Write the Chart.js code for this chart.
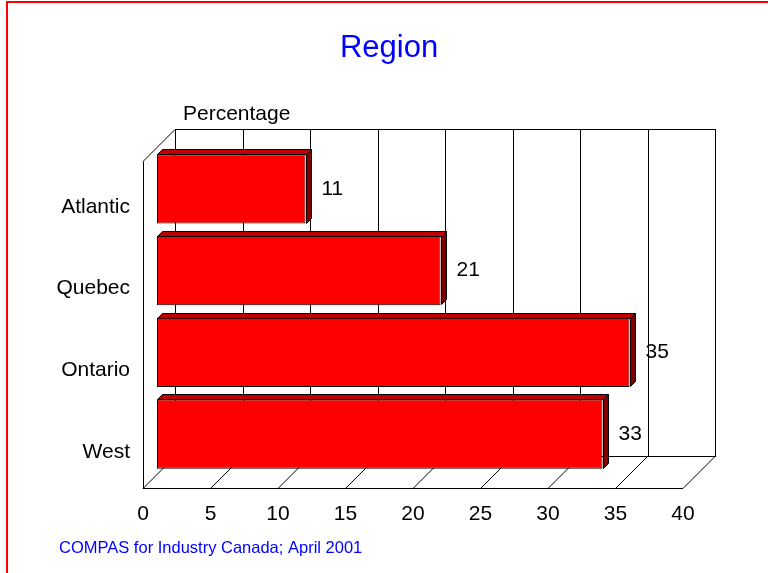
<!DOCTYPE html>
<html>
<head>
<meta charset="utf-8">
<title>Region</title>
<script src="https://cdn.jsdelivr.net/npm/chart.js@4/dist/chart.umd.min.js"></script>
<style>
  html, body { margin: 0; padding: 0; background: #fff; overflow: hidden; }
  .frame {
    position: absolute; left: 6px; top: 1px;
    width: 900px; height: 700px;
    border-top: 2px solid #ff0000; border-left: 2px solid #ff0000;
  }
  #region-chart { position: absolute; left: 0; top: 0; }
</style>
</head>
<body>
<div class="frame"></div>
<canvas id="region-chart" width="768" height="573"></canvas>
<script>
const regions = ['Atlantic', 'Quebec', 'Ontario', 'West'];
const percentages = [11, 21, 35, 33];
const axisMax = 40;
const axisStep = 5;

const chartTitle = 'Region';
const axisCaption = 'Percentage';
const sourceNote = 'COMPAS for Industry Canada; April 2001';

const fontFamily = '"Liberation Sans", Arial, Helvetica, sans-serif';

// depth of the box, where the bars sit inside it, and how thick the bars are
const boxDepth = 32;
const barShiftX = 14;
const barShiftY = 13;
const barDepth = 5;

const crisp = (v) => Math.round(v) + 0.5;

const line = (ctx, x1, y1, x2, y2) => {
    ctx.beginPath();
    ctx.moveTo(x1, y1);
    ctx.lineTo(x2, y2);
    ctx.stroke();
};

const poly = (ctx, pts, fill) => {
    ctx.beginPath();
    ctx.moveTo(pts[0][0], pts[0][1]);
    for (let i = 1; i < pts.length; i++) ctx.lineTo(pts[i][0], pts[i][1]);
    ctx.closePath();
    ctx.fillStyle = fill;
    ctx.fill();
    ctx.stroke();
};

// back wall, floor and side wall drawn behind the bars
const boxPlugin = {
    id: 'box3d',
    beforeDatasetsDraw(chart) {
        const ctx = chart.ctx;
        const xs = chart.scales.x;
        const area = chart.chartArea;
        const left = xs.getPixelForValue(0);
        const right = xs.getPixelForValue(axisMax);
        const top = area.top;
        const bottom = area.bottom;
        const d = boxDepth;

        ctx.save();
        ctx.strokeStyle = '#000';
        ctx.lineWidth = 1;

        // back wall outline
        ctx.strokeRect(crisp(left + d), crisp(top - d), Math.round(right - left), Math.round(bottom - top));

        xs.ticks.forEach((t) => {
            const px = xs.getPixelForValue(t.value);
            // gridline on the back wall
            line(ctx, crisp(px + d), crisp(top - d), crisp(px + d), crisp(bottom - d));
            // floor diagonal
            line(ctx, px, bottom + 0.5, px + d, bottom - d + 0.5);
        });

        // floor front edge
        line(ctx, left, crisp(bottom), right, crisp(bottom));
        // side wall
        line(ctx, crisp(left), crisp(top), crisp(left), crisp(bottom));
        line(ctx, left, top + 0.5, left + d, top - d + 0.5);

        // title and axis caption
        ctx.textBaseline = 'alphabetic';
        ctx.fillStyle = '#0000ff';
        ctx.font = '31px ' + fontFamily;
        ctx.textAlign = 'center';
        ctx.fillText(chartTitle, 389, 57);

        ctx.fillStyle = '#000';
        ctx.font = '21px ' + fontFamily;
        ctx.textAlign = 'left';
        ctx.fillText(axisCaption, left + 40, 120);
        ctx.restore();
    }
};

// bars are pushed into the box and given a top and a side face
const barPlugin = {
    id: 'bars3d',
    beforeDatasetDraw(chart, args) {
        const ctx = chart.ctx;
        ctx.save();
        ctx.translate(barShiftX, -barShiftY);
        ctx.strokeStyle = '#000';
        ctx.lineWidth = 1;
        args.meta.data.forEach((bar) => {
            const p = bar.getProps(['x', 'y', 'base', 'height'], true);
            const x0 = Math.round(p.base) + 0.5;
            const x1 = Math.round(p.x) + 0.5;
            const t = Math.round(p.y - p.height / 2) + 0.5;
            const b = Math.round(p.y + p.height / 2) - 0.5;
            const k = barDepth;
            poly(ctx, [[x0, t], [x0 + k, t - k], [x1 + k, t - k], [x1, t]], '#c00000');
            poly(ctx, [[x1, t], [x1 + k, t - k], [x1 + k, b - k], [x1, b]], '#800000');
        });
    },
    afterDatasetDraw(chart) {
        chart.ctx.restore();
    },
    afterDatasetsDraw(chart) {
        const ctx = chart.ctx;
        const meta = chart.getDatasetMeta(0);
        ctx.save();
        ctx.fillStyle = '#000';
        ctx.font = '21px ' + fontFamily;
        ctx.textAlign = 'left';
        ctx.textBaseline = 'middle';
        meta.data.forEach((bar, i) => {
            ctx.fillText(String(percentages[i]), bar.x + barShiftX + 16, bar.y - barShiftY);
        });

        // source line at the foot of the page
        ctx.fillStyle = '#0000ff';
        ctx.font = '16.5px ' + fontFamily;
        ctx.textBaseline = 'alphabetic';
        ctx.fillText(sourceNote, 59, 553);
        ctx.restore();
    }
};

const ctx = document.getElementById('region-chart').getContext('2d');
const myChart = new Chart(ctx, {
    type: 'bar',
    data: {
        labels: regions,
        datasets: [{
            data: percentages,
            backgroundColor: '#ff0000',
            borderColor: '#000',
            borderWidth: 1,
            borderSkipped: false,
            categoryPercentage: 1,
            barPercentage: 0.85,
            clip: false
        }]
    },
    options: {
        indexAxis: 'y',
        responsive: false,
        animation: false,
        devicePixelRatio: 1,
        layout: { padding: { top: 161, right: 85, bottom: 35, left: 0 } },
        plugins: {
            legend: { display: false },
            tooltip: { enabled: false },
            title: { display: false }
        },
        scales: {
            x: {
                min: 0,
                max: axisMax,
                ticks: {
                    stepSize: axisStep,
                    color: '#000',
                    padding: 6,
                    font: { family: fontFamily, size: 21 }
                },
                grid: { display: false },
                border: { display: false },
                afterFit: (scale) => { scale.height = 50; }
            },
            y: {
                ticks: {
                    color: '#000',
                    padding: 5,
                    labelOffset: 5,
                    font: { family: fontFamily, size: 21 }
                },
                grid: { display: false },
                border: { display: false },
                afterFit: (scale) => { scale.width = 143; }
            }
        }
    },
    plugins: [boxPlugin, barPlugin]
});
</script>
</body>
</html>
